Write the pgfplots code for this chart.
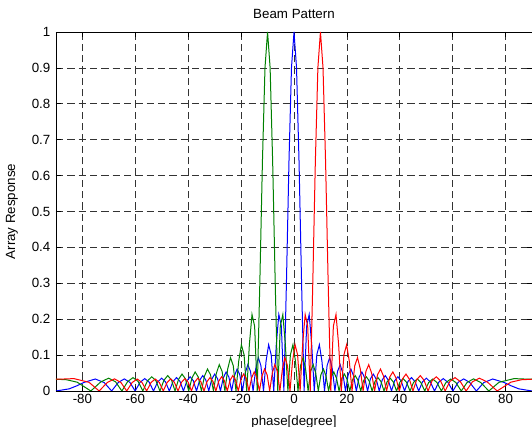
\documentclass[border=0pt]{standalone}
\usepackage{pgfplots}
\pgfplotsset{compat=1.18}
\usepackage{fontspec}
\setmainfont{Liberation Sans}
\usetikzlibrary{calc}
\definecolor{mgreen}{rgb}{0,0.5,0}
\begin{document}
\begin{tikzpicture}
\begin{axis}[
    name=ax,
    scale only axis,
    width=357pt, height=269.25pt,
    xmin=-90, xmax=90,
    ymin=0, ymax=1,
    xtick={-80,-60,-40,-20,0,20,40,60,80},
    ytick={0,0.1,0.2,0.3,0.4,0.5,0.6,0.7,0.8,0.9,1},
    /pgf/number format/assume math mode=true,
    grid=major,
    grid style={dash pattern=on 5.5pt off 3pt, black!80, line width=0.5pt},
    axis line style={black, line width=0.6pt},
    tick align=inside,
    major tick length=3.5pt,
    tick style={black, line width=0.5pt},
    xticklabel style={yshift=1pt},
    yticklabel style={xshift=-0.75pt},
    title={Beam Pattern},
    title style={at={(axis description cs:0.5,1.014)}, anchor=base},
    xlabel={phase[degree]},
    xlabel style={at={(axis description cs:0.5,-0.0975)}, anchor=base},
    ylabel={Array Response},
    ylabel style={at={(axis description cs:-0.0924,0.5)}, anchor=center},
    ]
% broadside beam
\addplot [color=blue, line width=0.75pt] coordinates {
 (-90,0) (-85,0.0060) (-82,0.0148) (-79.521,0.0236) (-75.160,0.0334) (-71.805,0.0236)
 (-68.960,0) (-66.443,0.0238) (-64.158,0.0337) (-62.050,0.0240) (-60.074,0) (-58.212,0.0242)
 (-56.443,0.0345) (-54.746,0.0246) (-53.130,0) (-51.568,0.0250) (-50.053,0.0357) (-48.590,0.0255)
 (-47.156,0) (-45.776,0.0261) (-44.427,0.0374) (-43.106,0.0268) (-41.810,0) (-40.542,0.0276)
 (-39.294,0.0397) (-38.073,0.0286) (-36.870,0) (-35.685,0.0297) (-34.519,0.0429) (-33.367,0.0310)
 (-32.230,0) (-31.108,0.0325) (-30.000,0.0471) (-28.903,0.0342) (-27.818,0) (-26.744,0.0363)
 (-25.679,0.0530) (-24.624,0.0387) (-23.578,0) (-22.540,0.0416) (-21.510,0.0612) (-20.487,0.0451)
 (-19.471,0) (-18.461,0.0494) (-17.458,0.0734) (-16.459,0.0547) (-15.466,0) (-14.478,0.0616)
 (-13.494,0.0930) (-12.514,0.0706) (-11.537,0) (-10.565,0.0830) (-9.594,0.1288) (-8.627,0.1010)
 (-7.662,0) (-6.700,0.1293) (-5.739,0.2131) (-4.780,0.1806) (-3.823,0) (-2.866,0.3004)
 (-1.910,0.6369) (-0.955,0.9004) (0,1)
 (0.955,0.9004) (1.910,0.6369) (2.866,0.3004) (3.823,0) (4.780,0.1806) (5.739,0.2131)
 (6.700,0.1293) (7.662,0) (8.627,0.1010) (9.594,0.1288) (10.565,0.0830) (11.537,0)
 (12.514,0.0706) (13.494,0.0930) (14.478,0.0616) (15.466,0) (16.459,0.0547) (17.458,0.0734)
 (18.461,0.0494) (19.471,0) (20.487,0.0451) (21.510,0.0612) (22.540,0.0416) (23.578,0)
 (24.624,0.0387) (25.679,0.0530) (26.744,0.0363) (27.818,0) (28.903,0.0342) (30.000,0.0471)
 (31.108,0.0325) (32.230,0) (33.367,0.0310) (34.519,0.0429) (35.685,0.0297) (36.870,0)
 (38.073,0.0286) (39.294,0.0397) (40.542,0.0276) (41.810,0) (43.106,0.0268) (44.427,0.0374)
 (45.776,0.0261) (47.156,0) (48.590,0.0255) (50.053,0.0357) (51.568,0.0250) (53.130,0)
 (54.746,0.0246) (56.443,0.0345) (58.212,0.0242) (60.074,0) (62.050,0.0240) (64.158,0.0337)
 (66.443,0.0238) (68.960,0) (71.805,0.0236) (75.160,0.0334) (79.521,0.0236) (82,0.0148)
 (85,0.0060) (90,0)
};
% steered to -10 deg
\addplot [color=mgreen, line width=0.75pt] coordinates {
 (-90,0.0328) (-86,0.0313) (-82.019,0.0246) (-76.817,0) (-73.133,0.0250) (-70.105,0.0357)
 (-67.465,0.0255) (-65.091,0) (-62.913,0.0261) (-60.885,0.0374) (-58.979,0.0268) (-57.173,0)
 (-55.452,0.0276) (-53.802,0.0397) (-52.214,0.0286) (-50.682,0) (-49.198,0.0297) (-47.758,0.0429)
 (-46.356,0.0310) (-44.990,0) (-43.655,0.0325) (-42.349,0.0471) (-41.070,0.0342) (-39.815,0)
 (-38.583,0.0363) (-37.371,0.0530) (-36.179,0.0387) (-35.005,0) (-33.847,0.0416) (-32.705,0.0612)
 (-31.577,0.0451) (-30.463,0) (-29.361,0.0494) (-28.271,0.0734) (-27.192,0.0547) (-26.124,0)
 (-25.065,0.0616) (-24.015,0.0930) (-22.974,0.0706) (-21.941,0) (-20.915,0.0830) (-19.896,0.1288)
 (-18.884,0.1010) (-17.877,0) (-16.877,0.1293) (-15.881,0.2131) (-14.891,0.1806) (-13.905,0)
 (-12.923,0.3004) (-11.945,0.6369) (-10.971,0.9004) (-10,1) (-9.032,0.9004) (-8.066,0.6369)
 (-7.103,0.3004) (-6.141,0) (-5.182,0.1806) (-4.224,0.2131) (-3.267,0.1293) (-2.311,0)
 (-1.355,0.1010) (-0.400,0.1288) (0.555,0.0830) (1.510,0) (2.466,0.0706) (3.422,0.0930)
 (4.379,0.0616) (5.337,0) (6.297,0.0547) (7.259,0.0734) (8.223,0.0494) (9.189,0)
 (10.157,0.0451) (11.129,0.0612) (12.104,0.0416) (13.082,0) (14.065,0.0387) (15.051,0.0530)
 (16.043,0.0363) (17.039,0) (18.040,0.0342) (19.048,0.0471) (20.061,0.0325) (21.081,0)
 (22.108,0.0310) (23.142,0.0429) (24.185,0.0297) (25.236,0) (26.296,0.0286) (27.367,0.0397)
 (28.447,0.0276) (29.539,0) (30.643,0.0268) (31.759,0.0374) (32.889,0.0261) (34.034,0)
 (35.194,0.0255) (36.371,0.0357) (37.567,0.0250) (38.781,0) (40.017,0.0246) (41.276,0.0345)
 (42.556,0.0242) (43.867,0) (45.210,0.0240) (46.582,0.0337) (47.990,0.0238) (49.437,0)
 (50.925,0.0236) (52.465,0.0334) (54.063,0.0236) (55.724,0) (57.460,0.0236) (59.283,0.0334)
 (61.204,0.0236) (63.255,0) (65.463,0.0238) (67.872,0.0337) (70.565,0.0240) (73.675,0)
 (77.514,0.0242) (83.226,0.0345) (87,0.0334) (90,0.0328)
};
% steered to +10 deg
\addplot [color=red, line width=0.75pt] coordinates {
 (-90,0.0328) (-87,0.0334) (-83.226,0.0345) (-77.514,0.0242) (-73.675,0) (-70.565,0.0240)
 (-67.872,0.0337) (-65.463,0.0238) (-63.255,0) (-61.204,0.0236) (-59.283,0.0334) (-57.460,0.0236)
 (-55.724,0) (-54.063,0.0236) (-52.465,0.0334) (-50.925,0.0236) (-49.437,0) (-47.990,0.0238)
 (-46.582,0.0337) (-45.210,0.0240) (-43.867,0) (-42.556,0.0242) (-41.276,0.0345) (-40.017,0.0246)
 (-38.781,0) (-37.567,0.0250) (-36.371,0.0357) (-35.194,0.0255) (-34.034,0) (-32.889,0.0261)
 (-31.759,0.0374) (-30.643,0.0268) (-29.539,0) (-28.447,0.0276) (-27.367,0.0397) (-26.296,0.0286)
 (-25.236,0) (-24.185,0.0297) (-23.142,0.0429) (-22.108,0.0310) (-21.081,0) (-20.061,0.0325)
 (-19.048,0.0471) (-18.040,0.0342) (-17.039,0) (-16.043,0.0363) (-15.051,0.0530) (-14.065,0.0387)
 (-13.082,0) (-12.104,0.0416) (-11.129,0.0612) (-10.157,0.0451) (-9.189,0) (-8.223,0.0494)
 (-7.259,0.0734) (-6.297,0.0547) (-5.337,0) (-4.379,0.0616) (-3.422,0.0930) (-2.466,0.0706)
 (-1.510,0) (-0.555,0.0830) (0.400,0.1288) (1.355,0.1010) (2.311,0) (3.267,0.1293)
 (4.224,0.2131) (5.182,0.1806) (6.141,0) (7.103,0.3004) (8.066,0.6369) (9.032,0.9004)
 (10,1) (10.971,0.9004) (11.945,0.6369) (12.923,0.3004) (13.905,0) (14.891,0.1806)
 (15.881,0.2131) (16.877,0.1293) (17.877,0) (18.884,0.1010) (19.896,0.1288) (20.915,0.0830)
 (21.941,0) (22.974,0.0706) (24.015,0.0930) (25.065,0.0616) (26.124,0) (27.192,0.0547)
 (28.271,0.0734) (29.361,0.0494) (30.463,0) (31.577,0.0451) (32.705,0.0612) (33.847,0.0416)
 (35.005,0) (36.179,0.0387) (37.371,0.0530) (38.583,0.0363) (39.815,0) (41.070,0.0342)
 (42.349,0.0471) (43.655,0.0325) (44.990,0) (46.356,0.0310) (47.758,0.0429) (49.198,0.0297)
 (50.682,0) (52.214,0.0286) (53.802,0.0397) (55.452,0.0276) (57.173,0) (58.979,0.0268)
 (60.885,0.0374) (62.913,0.0261) (65.091,0) (67.465,0.0255) (70.105,0.0357) (73.133,0.0250)
 (76.817,0) (82.019,0.0246) (86,0.0313) (90,0.0328)
};
\end{axis}
% crop the page like the reference (x label partly cut, right edge on the axis)
\pgfresetboundingbox
\path[use as bounding box] ($(ax.south west)+(-42pt,-27pt)$) rectangle ($(ax.north east)+(0pt,24pt)$);
\end{tikzpicture}
\end{document}
